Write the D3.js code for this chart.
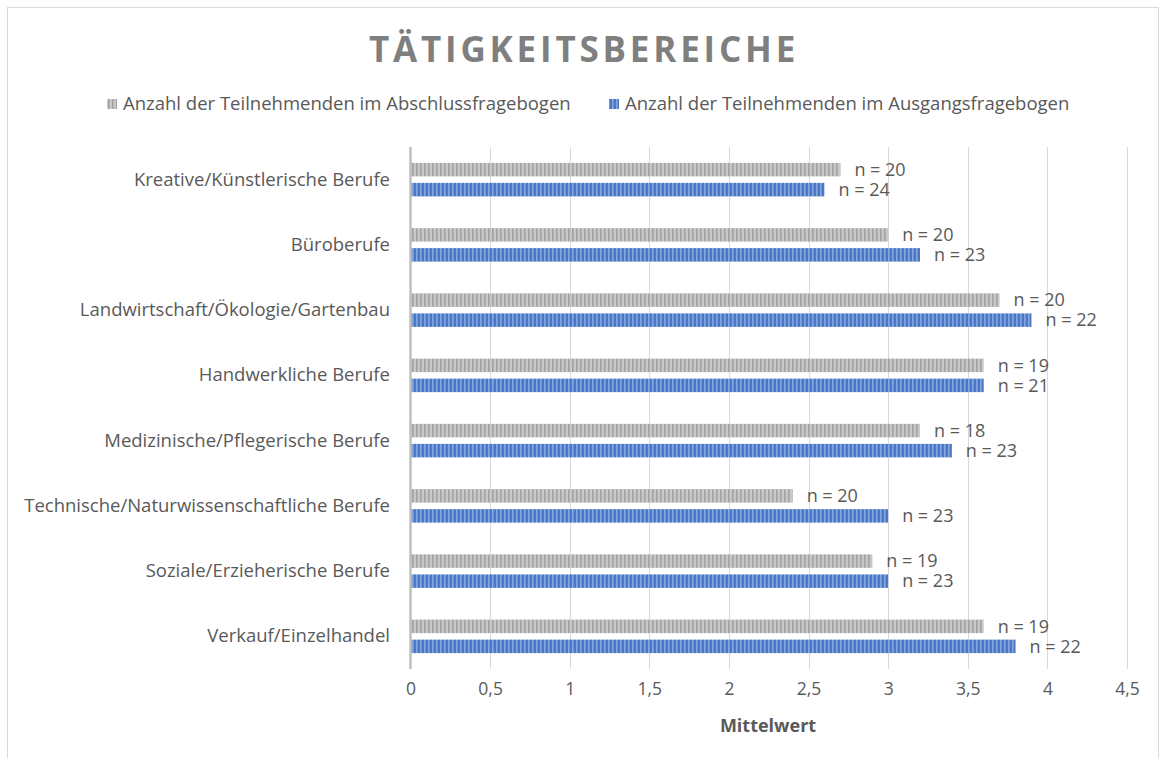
<!DOCTYPE html>
<html><head><meta charset="utf-8">
<script src="https://cdn.jsdelivr.net/npm/d3@7"></script>
<style>
html,body{margin:0;padding:0;background:#fff;}
svg text{font-family:"Open Sans",sans-serif;}
</style></head>
<body>
<svg id="chart" width="1159" height="758"></svg>
<script>
const categories = ["Kreative/Künstlerische Berufe","Büroberufe","Landwirtschaft/Ökologie/Gartenbau","Handwerkliche Berufe","Medizinische/Pflegerische Berufe","Technische/Naturwissenschaftliche Berufe","Soziale/Erzieherische Berufe","Verkauf/Einzelhandel"];
const seriesNames = ["Anzahl der Teilnehmenden im Abschlussfragebogen","Anzahl der Teilnehmenden im Ausgangsfragebogen"];
const abschlussValues = [2.7,3.0,3.7,3.6,3.2,2.4,2.9,3.6];
const ausgangValues   = [2.6,3.2,3.9,3.6,3.4,3.0,3.0,3.8];
const abschlussN = [20,20,20,19,18,20,19,19];
const ausgangN   = [24,23,22,21,23,23,23,22];
const xTicks = [0,0.5,1,1.5,2,2.5,3,3.5,4,4.5];
const title = "TÄTIGKEITSBEREICHE";
const axisTitle = "Mittelwert";

const svg = d3.select("#chart");
const textColor = "#595959";

// border
svg.append("rect").attr("x",7.5).attr("y",7.5).attr("width",1151).attr("height",760)
  .attr("fill","#fff").attr("stroke","#d9d9d9").attr("stroke-width",1);

// patterns
const defs = svg.append("defs");
function pat(id, base, stripe){
  const p = defs.append("pattern").attr("id",id).attr("patternUnits","userSpaceOnUse")
    .attr("width",4).attr("height",4);
  p.append("rect").attr("width",4).attr("height",4).attr("fill",base);
  p.append("rect").attr("x",0).attr("width",1.6).attr("height",4).attr("fill",stripe);
}
pat("pGray","#c8c8c8","#a3a3a3");
pat("pBlue","#4a78c8","#86a6df");
const fills = ["url(#pGray)","url(#pBlue)"];

const x = d3.scaleLinear().domain([0,4.5]).range([410.5,1127]);
const y = d3.scaleBand().domain(categories).range([147,669]);

// title
svg.append("text").attr("x",584).attr("y",62).attr("text-anchor","middle")
  .attr("font-size",35).attr("font-weight",700).attr("letter-spacing",3.8)
  .attr("fill","#7f7f7f").text(title);

// legend
const legX = [107,609];
seriesNames.forEach((s,i)=>{
  const g = svg.append("g");
  g.append("rect").attr("x",legX[i]).attr("y",99).attr("width",10).attr("height",10).attr("fill",fills[i]);
  g.append("text").attr("x",legX[i]+16).attr("y",110).attr("font-size",18.5).attr("fill",textColor).text(s);
});

// gridlines
const grid = svg.append("g");
xTicks.forEach(t=>{
  if(t===0) return;
  grid.append("line").attr("x1",Math.round(x(t))+0.5).attr("x2",Math.round(x(t))+0.5)
    .attr("y1",147).attr("y2",669).attr("stroke","#d9d9d9").attr("stroke-width",1);
});

// x axis labels
const xAxis = d3.axisBottom(x).tickValues(xTicks).tickSize(0).tickPadding(0)
  .tickFormat(d=>String(d).replace(".",","));
const xg = svg.append("g").attr("transform","translate(0,683)").call(xAxis);
xg.select(".domain").remove();
xg.selectAll("text").attr("font-size",17.5).attr("fill",textColor).attr("font-family","Open Sans");

svg.append("text").attr("x",768).attr("y",732).attr("text-anchor","middle")
  .attr("font-size",18).attr("font-weight",700).attr("fill",textColor).text(axisTitle);

// y axis
const yAxis = d3.axisLeft(y).tickSize(0).tickPadding(20);
const yg = svg.append("g").attr("transform","translate(410,0)").call(yAxis);
yg.select(".domain").remove();
yg.selectAll("text").attr("font-size",18.5).attr("fill",textColor).attr("font-family","Open Sans");

// bars
const barH = 13.5, gap = 6.5;
const series = [abschlussValues, ausgangValues];
const nVals = [abschlussN, ausgangN];
series.forEach((vals,si)=>{
  const off = si===0 ? -(barH+gap/2) : gap/2;
  svg.append("g").selectAll("rect").data(categories).join("rect")
    .attr("x",x(0)).attr("y",d=>y(d)+y.bandwidth()/2+off)
    .attr("width",(d,i)=>x(vals[i])-x(0)).attr("height",barH)
    .attr("fill",fills[si]);
  svg.append("g").selectAll("text").data(categories).join("text")
    .attr("x",(d,i)=>x(vals[i])+14).attr("y",d=>y(d)+y.bandwidth()/2+off+barH/2)
    .attr("dy","0.35em").attr("font-size",18).attr("fill",textColor)
    .text((d,i)=>"n = "+nVals[si][i]);
});

// y axis line
svg.append("line").attr("x1",x(0)).attr("x2",x(0)).attr("y1",147).attr("y2",669)
  .attr("stroke","#bfbfbf").attr("stroke-width",2.5);
</script>
</body></html>
